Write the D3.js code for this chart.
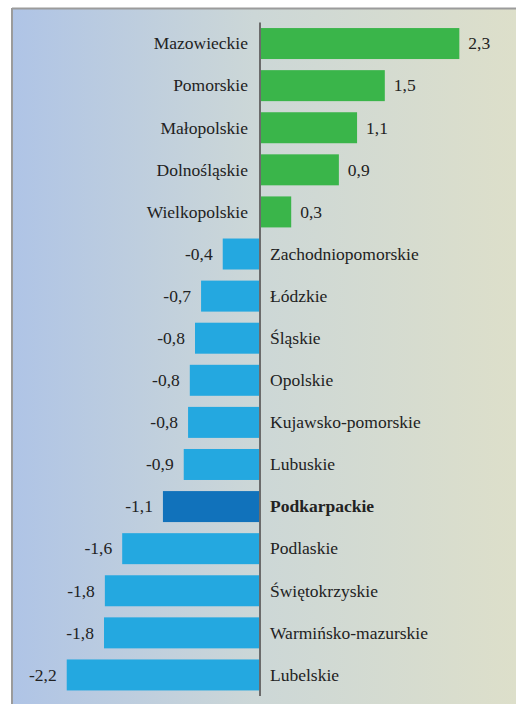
<!DOCTYPE html>
<html lang="pl">
<head>
  <meta charset="UTF-8">
  <title>Województwa</title>
  <script src="https://cdn.jsdelivr.net/npm/d3@7/dist/d3.min.js"></script>
  <style>
    body { margin: 0; background: #fff; }
    svg { display: block; }
  </style>
</head>
<body>
  <svg id="chart" width="516" height="704"></svg>
  <script>
    const regions = ["Mazowieckie", "Pomorskie", "Małopolskie", "Dolnośląskie", "Wielkopolskie",
      "Zachodniopomorskie", "Łódzkie", "Śląskie", "Opolskie", "Kujawsko-pomorskie", "Lubuskie",
      "Podkarpackie", "Podlaskie", "Świętokrzyskie", "Warmińsko-mazurskie", "Lubelskie"];
    const values = [2.30, 1.44, 1.12, 0.91, 0.36, -0.43, -0.68, -0.75, -0.81, -0.83, -0.88,
      -1.12, -1.59, -1.79, -1.80, -2.23];
    const valueLabels = ["2,3", "1,5", "1,1", "0,9", "0,3", "-0,4", "-0,7", "-0,8", "-0,8", "-0,8",
      "-0,9", "-1,1", "-1,6", "-1,8", "-1,8", "-2,2"];
    const highlight = "Podkarpackie";

    const font = "'Liberation Serif', 'Times New Roman', serif";

    const svg = d3.select("#chart");

    // background panel
    const defs = svg.append("defs");
    const grad = defs.append("linearGradient").attr("id", "bg").attr("x1", 0).attr("x2", 1).attr("y1", 0).attr("y2", 0);
    grad.append("stop").attr("offset", "0%").attr("stop-color", "#afc4e6");
    grad.append("stop").attr("offset", "48%").attr("stop-color", "#ccd7d7");
    grad.append("stop").attr("offset", "100%").attr("stop-color", "#dddfca");

    svg.append("rect").attr("x", 12).attr("y", 9).attr("width", 504).attr("height", 695).attr("fill", "url(#bg)");
    svg.append("line").attr("x1", 12).attr("x2", 516).attr("y1", 8.5).attr("y2", 8.5)
      .attr("stroke", "#9b9b9b").attr("stroke-width", 2);
    svg.append("line").attr("x1", 12).attr("x2", 12).attr("y1", 8).attr("y2", 704)
      .attr("stroke", "#9b9b9b").attr("stroke-width", 2);

    const x = d3.scaleLinear().domain([-3, 3]).range([0, 520]);
    const y = d3.scaleBand().domain(regions).range([22.5, 696]).paddingInner(0.264).paddingOuter(0.132);

    const rows = regions.map((name, i) => ({ name, value: values[i], label: valueLabels[i] }));

    svg.selectAll(".bar")
      .data(rows)
      .enter().append("rect")
      .attr("class", "bar")
      .attr("x", d => x(Math.min(0, d.value)))
      .attr("y", d => y(d.name))
      .attr("width", d => Math.abs(x(d.value) - x(0)))
      .attr("height", y.bandwidth())
      .attr("fill", d => d.name === highlight ? "#1172bb" : (d.value >= 0 ? "#3ab54a" : "#24a8e0"));

    // zero line
    svg.append("line")
      .attr("x1", x(0)).attr("x2", x(0))
      .attr("y1", y.range()[0]).attr("y2", y.range()[1])
      .attr("stroke", "#6b6b6b").attr("stroke-width", 2);

    // region names on the opposite side of the bar
    svg.selectAll(".name")
      .data(rows)
      .enter().append("text")
      .attr("class", "name")
      .attr("font-family", font)
      .attr("font-size", 17.5)
      .attr("fill", "#222")
      .attr("x", d => d.value >= 0 ? x(0) - 12 : x(0) + 10)
      .attr("y", d => y(d.name) + y.bandwidth() / 2)
      .attr("dy", "0.33em")
      .attr("text-anchor", d => d.value >= 0 ? "end" : "start")
      .attr("font-weight", d => d.name === highlight ? "bold" : "normal")
      .text(d => d.name);

    // value labels at bar ends
    svg.selectAll(".val")
      .data(rows)
      .enter().append("text")
      .attr("class", "val")
      .attr("font-family", font)
      .attr("font-size", 17.5)
      .attr("fill", "#222")
      .attr("x", d => d.value >= 0 ? x(d.value) + 9 : x(d.value) - 10)
      .attr("y", d => y(d.name) + y.bandwidth() / 2)
      .attr("dy", "0.33em")
      .attr("text-anchor", d => d.value >= 0 ? "start" : "end")
      .text(d => d.label);
  </script>
</body>
</html>
